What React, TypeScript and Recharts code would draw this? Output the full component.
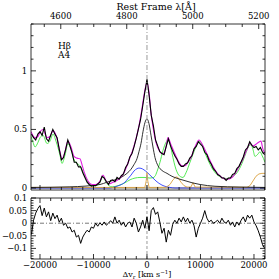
import React from 'react';
import { LineChart, Line, XAxis, YAxis, ReferenceLine } from 'recharts';

const C_KMS = 299792.458;
const HBETA = 4861.33;

const VEL_DOMAIN: [number, number] = [-21680, 22060];
const FLUX_DOMAIN: [number, number] = [-0.017, 1.4];
const RES_DOMAIN: [number, number] = [-0.142, 0.1];

const VEL_TICKS = [-20000, -18000, -16000, -14000, -12000, -10000, -8000, -6000, -4000, -2000, 0, 2000, 4000, 6000, 8000, 10000, 12000, 14000, 16000, 18000, 20000, 22000];
const VEL_MAJOR = [-20000, -10000, 0, 10000, 20000];
const LAMBDA_TICKS = [4550, 4600, 4650, 4700, 4750, 4800, 4850, 4900, 4950, 5000, 5050, 5100, 5150, 5200];
const LAMBDA_MAJOR = [4600, 4800, 5000, 5200];
const FLUX_TICKS = [0, 0.1, 0.2, 0.3, 0.4, 0.5, 0.6, 0.7, 0.8, 0.9, 1, 1.1, 1.2, 1.3, 1.4];
const FLUX_MAJOR = [0, 0.5, 1];
const RES_TICKS = [-0.14, -0.13, -0.12, -0.11, -0.1, -0.09, -0.08, -0.07, -0.06, -0.05, -0.04, -0.03, -0.02, -0.01, 0, 0.01, 0.02, 0.03, 0.04, 0.05, 0.06, 0.07, 0.08, 0.09, 0.1];
const RES_MAJOR = [-0.1, -0.05, 0, 0.05, 0.1];

// [velocity km/s, normalised flux]
const OBSERVED: [number, number][] = [
  [-21600, 0.46], [-21200, 0.43], [-20800, 0.41], [-20400, 0.46], [-20000, 0.48], [-19600, 0.45], [-19200, 0.52], [-18800, 0.42], [-18400, 0.40], [-18000, 0.45],
  [-17600, 0.50], [-17200, 0.46], [-16800, 0.43], [-16400, 0.33], [-16000, 0.24], [-15600, 0.26], [-15200, 0.33], [-14800, 0.41], [-14400, 0.36], [-14000, 0.30],
  [-13600, 0.22], [-13200, 0.22], [-12800, 0.18], [-12400, 0.18], [-12000, 0.13], [-11600, 0.09], [-11200, 0.05], [-10800, 0.03], [-10400, 0.015], [-10000, 0.02],
  [-9600, 0.02], [-9200, 0.035], [-8800, 0.05], [-8400, 0.10], [-8000, 0.085], [-7600, 0.055], [-7200, 0.03], [-6800, 0.065], [-6400, 0.07], [-6000, 0.055],
  [-5600, 0.09], [-5200, 0.075], [-4800, 0.105], [-4400, 0.12], [-4000, 0.175], [-3600, 0.205], [-3200, 0.265], [-2800, 0.295], [-2400, 0.355], [-2000, 0.425],
  [-1600, 0.505], [-1200, 0.585], [-800, 0.70], [-400, 0.82], [-200, 0.87], [0, 0.93], [200, 0.86], [400, 0.79], [800, 0.62], [1200, 0.53],
  [1600, 0.41], [2000, 0.36], [2400, 0.31], [2800, 0.295], [3200, 0.285], [3600, 0.355], [4000, 0.42], [4400, 0.36], [4800, 0.315], [5200, 0.275],
  [5600, 0.245], [6000, 0.205], [6400, 0.185], [6800, 0.185], [7200, 0.205], [7600, 0.215], [8000, 0.255], [8400, 0.275], [8800, 0.335], [9200, 0.355],
  [9600, 0.395], [10000, 0.375], [10400, 0.355], [10800, 0.305], [11200, 0.285], [11600, 0.235], [12000, 0.205], [12400, 0.165], [12800, 0.145], [13200, 0.115],
  [13600, 0.105], [14000, 0.085], [14400, 0.085], [14800, 0.065], [15200, 0.085], [15600, 0.085], [16000, 0.115], [16400, 0.125], [16800, 0.165], [17200, 0.185],
  [17600, 0.225], [18000, 0.265], [18400, 0.325], [18800, 0.345], [19200, 0.395], [19600, 0.365], [20000, 0.345], [20400, 0.355], [20800, 0.325], [21200, 0.345],
  [21600, 0.305], [22000, 0.285],
];

const TOTAL_FIT: [number, number][] = [
  [-21680, 0.48], [-20930, 0.43], [-20370, 0.44], [-19990, 0.48], [-19440, 0.50], [-18690, 0.43], [-18130, 0.44], [-17570, 0.49], [-17010, 0.45], [-16260, 0.31],
  [-15890, 0.245], [-15330, 0.31], [-14770, 0.40], [-14200, 0.35], [-13640, 0.27], [-13080, 0.255], [-12520, 0.25], [-12150, 0.20], [-11770, 0.14], [-11030, 0.06],
  [-10280, 0.03], [-9530, 0.03], [-8780, 0.06], [-8220, 0.11], [-7660, 0.06], [-7100, 0.035], [-6540, 0.045], [-5790, 0.06], [-5050, 0.085], [-4300, 0.13],
  [-3740, 0.19], [-3180, 0.26], [-2620, 0.33], [-2060, 0.42], [-1500, 0.53], [-930, 0.68], [-370, 0.84], [0, 0.90], [370, 0.82], [750, 0.64],
  [1120, 0.52], [1680, 0.39], [2430, 0.31], [2990, 0.29], [3550, 0.35], [3920, 0.43], [4490, 0.37], [5230, 0.29], [5790, 0.235], [6540, 0.19],
  [7100, 0.19], [7660, 0.22], [8220, 0.26], [8970, 0.35], [9720, 0.41], [10470, 0.36], [11210, 0.29], [12150, 0.20], [13080, 0.13], [14020, 0.09],
  [14950, 0.075], [15890, 0.09], [16820, 0.15], [17760, 0.23], [18690, 0.33], [19250, 0.38], [19810, 0.36], [20560, 0.38], [21300, 0.40], [21680, 0.33],
  [22060, 0.30],
];

const FEII_TEMPLATE: [number, number][] = [
  [-21680, 0.44], [-21300, 0.39], [-20930, 0.35], [-20370, 0.39], [-19990, 0.43], [-19440, 0.45], [-18690, 0.38], [-18130, 0.40], [-17570, 0.46], [-17010, 0.40],
  [-16260, 0.28], [-15890, 0.21], [-15330, 0.28], [-14770, 0.38], [-14200, 0.33], [-13640, 0.24], [-13080, 0.21], [-12520, 0.19], [-11770, 0.12], [-11030, 0.05],
  [-10280, 0.02], [-9530, 0.02], [-8780, 0.05], [-8220, 0.10], [-7660, 0.05], [-7100, 0.02], [-6540, 0.01], [-5790, 0.015], [-5050, 0.025], [-4110, 0.045],
  [-3180, 0.07], [-2240, 0.085], [-1310, 0.09], [-370, 0.09], [560, 0.085], [1120, 0.088], [1500, 0.10], [1870, 0.14], [2430, 0.22], [2990, 0.32],
  [3550, 0.39], [3920, 0.41], [4300, 0.38], [4670, 0.30], [5050, 0.22], [5420, 0.16], [5790, 0.12], [6350, 0.095], [6730, 0.09], [7290, 0.13],
  [8040, 0.22], [8780, 0.31], [9340, 0.37], [9720, 0.40], [10090, 0.39], [10650, 0.32], [11400, 0.24], [12150, 0.17], [13080, 0.115], [14020, 0.09],
  [14950, 0.08], [15890, 0.095], [16820, 0.13], [17760, 0.21], [18500, 0.30], [19060, 0.36], [19440, 0.37], [19810, 0.33], [20185, 0.27], [20746, 0.29],
  [21120, 0.31], [21490, 0.28], [22060, 0.22],
];

const BLUE_COMPONENT: [number, number][] = [
  [-21680, 0], [-6920, 0], [-5980, 0.01], [-5050, 0.025], [-4110, 0.05], [-3550, 0.08], [-2990, 0.11], [-2430, 0.145], [-1870, 0.165], [-1500, 0.17],
  [-1120, 0.168], [-560, 0.155], [0, 0.135], [560, 0.11], [1120, 0.085], [1680, 0.06], [2240, 0.04], [2800, 0.025], [3550, 0.012], [4300, 0.005],
  [5230, 0], [22060, 0],
];

const BROAD_COMPONENT: [number, number][] = [
  [-21680, 0.005], [-14400, 0.01], [-8780, 0.03], [-7480, 0.05], [-5610, 0.075], [-4670, 0.095], [-3740, 0.125], [-2990, 0.16], [-2430, 0.20], [-1870, 0.25],
  [-1500, 0.31], [-1120, 0.38], [-750, 0.48], [-370, 0.56], [0, 0.59], [370, 0.55], [750, 0.45], [1120, 0.35], [1500, 0.26], [2060, 0.19],
  [2800, 0.15], [3740, 0.125], [4670, 0.10], [5790, 0.08], [6920, 0.065], [8410, 0.045], [9910, 0.03], [12710, 0.015], [17380, 0.008], [22060, 0.005],
];

const NARROW_LINES: [number, number][] = [
  [-21680, 0.005], [-400, 0.005], [-150, 0.06], [0, 0.13], [150, 0.06], [400, 0.005], [3550, 0.006], [4300, 0.03], [4860, 0.07], [5420, 0.095],
  [5790, 0.09], [6350, 0.05], [6920, 0.02], [7480, 0.008], [8200, 0.008], [8600, 0.045], [9000, 0.008], [18700, 0.006], [19250, 0.02], [19810, 0.06],
  [20370, 0.10], [20930, 0.12], [21490, 0.125], [22060, 0.125],
];

const ZERO_LEVEL: [number, number][] = [[-21680, 0], [22060, 0]];

// [velocity km/s, residual]
const RESIDUALS: [number, number][] = [
  [-21600, -0.045], [-21200, 0.012], [-20800, 0.04], [-20400, 0.058], [-20000, 0.07], [-19600, 0.03], [-19200, 0.06], [-18800, 0.025], [-18400, 0.045], [-18000, 0.01],
  [-17600, 0.04], [-17200, 0.018], [-16800, 0.032], [-16400, 0.004], [-16000, 0.02], [-15600, -0.008], [-15200, 0.0], [-14800, -0.02], [-14400, -0.015], [-14000, -0.035],
  [-13600, -0.028], [-13200, -0.055], [-12800, -0.048], [-12400, -0.08], [-12000, -0.055], [-11600, -0.04], [-11200, -0.028], [-10800, -0.035], [-10400, -0.015], [-10000, -0.02],
  [-9600, 0.0], [-9200, -0.012], [-8800, 0.002], [-8400, -0.008], [-8000, 0.005], [-7600, -0.008], [-7200, 0.0], [-6800, 0.01], [-6400, 0.0], [-6000, 0.025],
  [-5600, 0.0], [-5200, 0.012], [-4800, -0.008], [-4400, 0.005], [-4000, -0.015], [-3600, 0.0], [-3200, 0.005], [-2800, -0.015], [-2400, 0.02], [-2000, 0.0],
  [-1600, -0.035], [-1200, -0.015], [-800, 0.012], [-400, -0.02], [0, 0.025], [400, -0.03], [800, 0.05], [1200, 0.062], [1600, 0.035], [2000, 0.045],
  [2400, 0.005], [2800, -0.04], [3200, -0.02], [3600, -0.075], [4000, -0.028], [4400, -0.048], [4800, -0.005], [5200, 0.012], [5600, 0.0], [6000, 0.02],
  [6400, 0.005], [6800, 0.025], [7200, 0.005], [7600, 0.02], [8000, 0.0], [8400, 0.012], [8800, -0.01], [9200, -0.055], [9600, -0.02], [10000, 0.0],
  [10400, 0.02], [10800, 0.05], [11200, 0.02], [11600, 0.005], [12000, 0.012], [12400, 0.0], [12800, 0.005], [13200, 0.012], [13600, 0.0], [14000, 0.02],
  [14400, 0.005], [14800, 0.0], [15200, 0.012], [15600, -0.008], [16000, 0.005], [16400, -0.015], [16800, 0.005], [17200, -0.008], [17600, 0.012], [18000, 0.025],
  [18400, 0.005], [18800, 0.032], [19200, 0.02], [19600, 0.032], [20000, 0.005], [20400, -0.01], [20800, -0.03], [21200, -0.055], [21600, -0.085], [22000, -0.1],
];

const toRows = (pairs: [number, number][]) => pairs.map(([v, y]) => ({ v, y }));

const FONT = 'DejaVu Serif';
const near = (a: number, list: number[]) => list.some((b) => Math.abs(a - b) < 1e-6);
const lambdaToVel = (l: number) => C_KMS * (l / HBETA - 1);
const LAMBDA_VEL_TICKS = LAMBDA_TICKS.map(lambdaToVel);
const LAMBDA_VEL_MAJOR = LAMBDA_MAJOR.map(lambdaToVel);

const fmtNum = (v: number) => {
  const s = String(Math.round(v * 1000) / 1000);
  return s.replace('-', '\u2212');
};

function xTick(side: 'top' | 'bottom', majors: number[], label: ((v: number) => string) | null) {
  return (props: any) => {
    const { x, y, payload } = props;
    const major = near(payload.value, majors);
    const len = major ? 5 : 3;
    const dir = side === 'top' ? 1 : -1;
    return (
      <g>
        <line x1={x} y1={y} x2={x} y2={y + dir * len} stroke="#000" strokeWidth={0.8} />
        {major && label ? (
          <text x={x} y={side === 'top' ? y - 5 : y + 8.5} textAnchor="middle" fontFamily={FONT} fontSize={8.5} fill="#000">
            {label(payload.value)}
          </text>
        ) : null}
      </g>
    );
  };
}

function yTick(side: 'left' | 'right', majors: number[], withLabel: boolean) {
  return (props: any) => {
    const { x, y, payload } = props;
    const major = near(payload.value, majors);
    const len = major ? 5 : 2.5;
    const dir = side === 'left' ? 1 : -1;
    return (
      <g>
        <line x1={x} y1={y} x2={x + dir * len} y2={y} stroke="#000" strokeWidth={0.8} />
        {major && withLabel ? (
          <text x={x - 4} y={y + 3} textAnchor="end" fontFamily={FONT} fontSize={8.5} letterSpacing={-0.2} fill="#000">
            {fmtNum(payload.value)}
          </text>
        ) : null}
      </g>
    );
  };
}

const axisLine = { stroke: '#000', strokeWidth: 0.8 };

export default function App() {
  const common = { dot: false, isAnimationActive: false, xAxisId: 'b', yAxisId: 'l', dataKey: 'y' } as const;
  return (
    <div style={{ position: 'absolute', left: 0, top: 0, width: 279, height: 279, background: '#fff' }}>
      <div style={{ position: 'absolute', left: 0, top: 0 }}>
        <LineChart width={279} height={192} margin={{ top: 0, right: 0, bottom: 0, left: 0 }}>
          <XAxis xAxisId="b" orientation="bottom" type="number" dataKey="v" domain={VEL_DOMAIN} allowDataOverflow ticks={VEL_TICKS} interval={0} height={2} tickSize={0} tickMargin={0} tickLine={false} axisLine={axisLine} tick={xTick('bottom', VEL_MAJOR, null)} />
          <XAxis xAxisId="t" orientation="top" type="number" dataKey="v" domain={VEL_DOMAIN} allowDataOverflow ticks={LAMBDA_VEL_TICKS} interval={0} height={24} tickSize={0} tickMargin={0} tickLine={false} axisLine={axisLine} tick={xTick('top', LAMBDA_VEL_MAJOR, (v) => String(Math.round(HBETA * (1 + v / C_KMS))))} />
          <YAxis yAxisId="l" orientation="left" type="number" domain={FLUX_DOMAIN} allowDataOverflow ticks={FLUX_TICKS} interval={0} width={31} tickSize={0} tickMargin={0} tickLine={false} axisLine={axisLine} tick={yTick('left', FLUX_MAJOR, true)} />
          <YAxis yAxisId="r" orientation="right" type="number" domain={FLUX_DOMAIN} allowDataOverflow ticks={FLUX_TICKS} interval={0} width={14} tickSize={0} tickMargin={0} tickLine={false} axisLine={axisLine} tick={yTick('right', FLUX_MAJOR, false)} />
          <Line {...common} xAxisId="t" yAxisId="r" data={toRows(ZERO_LEVEL)} stroke="transparent" />
          <Line {...common} data={toRows(ZERO_LEVEL)} stroke="#a8a08a" strokeWidth={1.4} />
          <Line {...common} data={toRows(FEII_TEMPLATE)} type="monotone" stroke="#3ee63e" strokeWidth={0.9} />
          <Line {...common} data={toRows(BLUE_COMPONENT)} type="monotone" stroke="#2a3cff" strokeWidth={0.9} />
          <Line {...common} data={toRows(NARROW_LINES)} type="linear" stroke="#d9a040" strokeWidth={0.9} />
          <Line {...common} data={toRows(BROAD_COMPONENT)} type="monotone" stroke="#1a1a1a" strokeWidth={0.9} />
          <Line {...common} data={toRows(TOTAL_FIT)} type="monotone" stroke="#e01ee0" strokeWidth={1.1} />
          <Line {...common} data={toRows(OBSERVED)} type="linear" stroke="#000" strokeWidth={1.1} />
          <ReferenceLine xAxisId="b" yAxisId="l" x={0} stroke="#9a9a9a" strokeWidth={1} strokeDasharray="5 2 1 2" />
        </LineChart>
      </div>
      <div style={{ position: 'absolute', left: 0, top: 192 }}>
        <LineChart width={279} height={87} margin={{ top: 0, right: 0, bottom: 0, left: 0 }}>
          <XAxis xAxisId="b" orientation="bottom" type="number" dataKey="v" domain={VEL_DOMAIN} allowDataOverflow ticks={VEL_TICKS} interval={0} height={20} tickSize={0} tickMargin={0} tickLine={false} axisLine={axisLine} tick={xTick('bottom', VEL_MAJOR, fmtNum)} />
          <XAxis xAxisId="t" orientation="top" type="number" dataKey="v" domain={VEL_DOMAIN} allowDataOverflow ticks={VEL_TICKS} interval={0} height={6} tickSize={0} tickMargin={0} tickLine={false} axisLine={axisLine} tick={xTick('top', VEL_MAJOR, null)} />
          <YAxis yAxisId="l" orientation="left" type="number" domain={RES_DOMAIN} allowDataOverflow ticks={RES_TICKS} interval={0} width={31} tickSize={0} tickMargin={0} tickLine={false} axisLine={axisLine} tick={yTick('left', RES_MAJOR, true)} />
          <YAxis yAxisId="r" orientation="right" type="number" domain={RES_DOMAIN} allowDataOverflow ticks={RES_TICKS} interval={0} width={14} tickSize={0} tickMargin={0} tickLine={false} axisLine={axisLine} tick={yTick('right', RES_MAJOR, false)} />
          <Line {...common} xAxisId="t" yAxisId="r" data={toRows(ZERO_LEVEL)} stroke="transparent" />
          <ReferenceLine xAxisId="b" yAxisId="l" y={0} stroke="#555" strokeWidth={0.8} strokeDasharray="4 2 1 2" />
          <ReferenceLine xAxisId="b" yAxisId="l" x={0} stroke="#9a9a9a" strokeWidth={1} strokeDasharray="3 2" />
          <Line {...common} data={toRows(RESIDUALS)} type="linear" stroke="#000" strokeWidth={1} />
        </LineChart>
      </div>
      <svg width={279} height={279} style={{ position: 'absolute', left: 0, top: 0, pointerEvents: 'none' }}>
        <text x={156} y={10} textAnchor="middle" fontFamily={FONT} fontSize={9.5} fill="#000">Rest Frame λ[Å]</text>
        <text x={58} y={49} fontFamily={FONT} fontSize={9} fill="#000">Hβ</text>
        <text x={58} y={57.5} fontFamily={FONT} fontSize={9} fill="#000">A4</text>
        <text x={147} y={277} textAnchor="middle" fontFamily={FONT} fontSize={8} fill="#000">
          Δv<tspan fontSize={5.5} dy={1.5}>r</tspan>
          <tspan dy={-1.5}> [km s</tspan>
          <tspan fontSize={5.5} dy={-3}>−1</tspan>
          <tspan dy={3}>]</tspan>
        </text>
      </svg>
    </div>
  );
}
